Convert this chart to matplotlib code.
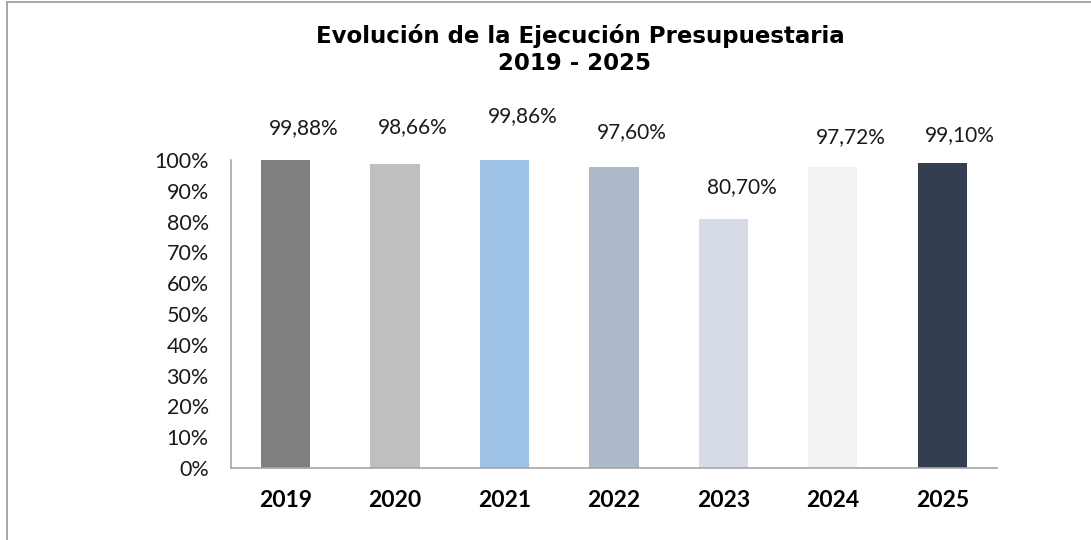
import matplotlib
matplotlib.use("Agg")
import matplotlib.pyplot as plt
from matplotlib.lines import Line2D

# ---- data ----
years = ["2019", "2020", "2021", "2022", "2023", "2024", "2025"]
execution_pct = [99.88, 98.66, 99.86, 97.60, 80.70, 97.72, 99.10]
bar_colors = ["#7f7f7f", "#bfbfbf", "#9dc3e6", "#adb9ca", "#d6dce5", "#f2f2f2", "#333f50"]
y_ticks = [0, 10, 20, 30, 40, 50, 60, 70, 80, 90, 100]
title_line1 = "Evolución de la Ejecución Presupuestaria"
title_line2 = "2019 - 2025"
# manual label placement (pixels above bar top), as in the original chart
label_dy_px = [26, 31, 38, 29, 26, 23.5, 22]
label_dx_px = 18

FONT = "Lato"
fig = plt.figure(figsize=(10.91, 5.40), dpi=100)
ax = fig.add_axes([0.2117, 0.1333, 0.7021, 0.5704])

x = list(range(len(years)))
ax.bar(x, execution_pct, width=0.45, color=bar_colors)

ax.set_xlim(-0.5, len(years) - 0.5)
ax.set_ylim(0, 100)
ax.set_yticks(y_ticks)
ax.set_yticklabels([f"{t}%" for t in y_ticks], fontsize=15.5, family=FONT, color="#1a1a1a")
ax.set_xticks(x)
ax.set_xticklabels(years, fontsize=16.5, family=FONT, fontweight="bold", color="black")
ax.tick_params(axis="y", length=0, pad=16)
ax.tick_params(axis="x", length=0, pad=16)

for s in ["top", "right"]:
    ax.spines[s].set_visible(False)
for s in ["left", "bottom"]:
    ax.spines[s].set_color("#a6a6a6")
    ax.spines[s].set_linewidth(1.2)

for xi, v, dy in zip(x, execution_pct, label_dy_px):
    ax.annotate(f"{v:.2f}%".replace(".", ","), xy=(xi, v),
                xytext=(label_dx_px, dy), textcoords="offset pixels",
                ha="center", va="baseline", fontsize=15, family=FONT, color="#1a1a1a")

fig.text(0.532, 0.9204, title_line1, ha="center", va="baseline",
         fontsize=16.5, fontweight="bold", family="DejaVu Sans", color="black")
fig.text(0.527, 0.8704, title_line2, ha="center", va="baseline",
         fontsize=16.5, fontweight="bold", family="DejaVu Sans", color="black")

# outer frame (only top and left edges visible in the original crop)
fig.add_artist(Line2D([0.0064, 0.0064], [0, 0.9954], transform=fig.transFigure,
                      color="#a0a0a0", linewidth=1.3))
fig.add_artist(Line2D([0.0064, 1.0], [0.9954, 0.9954], transform=fig.transFigure,
                      color="#a0a0a0", linewidth=1.3))

fig.savefig("out.png", dpi=100)
